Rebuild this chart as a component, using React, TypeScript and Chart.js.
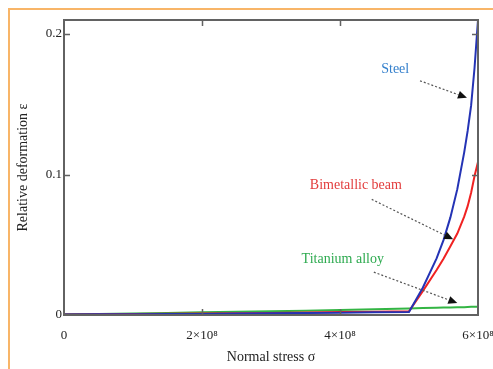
import React, { useEffect, useRef } from "react";
import { Chart, registerables } from "chart.js";

Chart.register(...registerables);

// Normal stress σ (Pa)
const stress = [0, 0.5e8, 1e8, 1.5e8, 2e8, 2.5e8, 3e8, 3.5e8, 4e8, 4.5e8, 5e8, 5.2e8, 5.4e8, 5.5e8, 5.6e8, 5.7e8, 5.8e8, 5.85e8, 5.9e8, 5.95e8, 6e8];
// Relative deformation ε
const steel = [0.0004, 0.0005, 0.0006, 0.0007, 0.0008, 0.001, 0.0012, 0.0014, 0.0016, 0.0019, 0.0022, 0.0194, 0.0403, 0.0533, 0.0695, 0.0896, 0.1158, 0.131, 0.149, 0.176, 0.21];
const bimetallic = [0.0004, 0.0005, 0.0007, 0.0009, 0.0011, 0.0013, 0.0015, 0.0018, 0.0021, 0.0024, 0.0026, 0.017, 0.032, 0.04, 0.049, 0.058, 0.07, 0.0775, 0.087, 0.099, 0.109];
const titanium = [0.0005, 0.0008, 0.0011, 0.0015, 0.0019, 0.0023, 0.0027, 0.0031, 0.0035, 0.0041, 0.0047, 0.005, 0.0052, 0.0053, 0.0054, 0.0055, 0.0056, 0.0057, 0.0058, 0.0058, 0.0059];

const seriesNames = ["Steel", "Bimetallic beam", "Titanium alloy"];
const lineColors = ["#2433b5", "#f02222", "#33b544"];
const textColors = ["#3580cc", "#e23c3c", "#2daa4f"];

// annotation positions in data units
const annoTextX = [4.8e8, 4.23e8, 4.04e8];
const annoTextY = [0.175, 0.092, 0.0397];
const arrowFromX = [5.16e8, 4.46e8, 4.49e8];
const arrowFromY = [0.1667, 0.0823, 0.0305];
const arrowToX = [5.84e8, 5.64e8, 5.7e8];
const arrowToY = [0.1546, 0.0539, 0.0085];

const xTicks = [0, 2e8, 4e8, 6e8];
const yTicks = [0, 0.1, 0.2];

const serif = "'Liberation Serif', 'DejaVu Serif', serif";

const framePlugin = {
  id: "frameAndNotes",
  afterDatasetsDraw(chart: any) {
    const { ctx, chartArea: a, scales } = chart;
    const xs = scales.x;
    const ys = scales.y;
    ctx.save();
    ctx.strokeStyle = "#626262";
    ctx.lineWidth = 2;
    ctx.strokeRect(a.left, a.top, a.right - a.left, a.bottom - a.top);
    ctx.lineWidth = 1.5;
    ctx.beginPath();
    xTicks.forEach((v) => {
      if (v === xs.min || v === xs.max) return;
      const px = Math.round(xs.getPixelForValue(v)) + 0.5;
      ctx.moveTo(px, a.top);
      ctx.lineTo(px, a.top + 6);
      ctx.moveTo(px, a.bottom);
      ctx.lineTo(px, a.bottom - 6);
    });
    yTicks.forEach((v) => {
      if (v === ys.min) return;
      const py = Math.round(ys.getPixelForValue(v)) + 0.5;
      ctx.moveTo(a.left, py);
      ctx.lineTo(a.left + 6, py);
      ctx.moveTo(a.right, py);
      ctx.lineTo(a.right - 6, py);
    });
    ctx.stroke();

    ctx.font = `14px ${serif}`;
    ctx.textAlign = "center";
    ctx.textBaseline = "middle";
    seriesNames.forEach((name, i) => {
      ctx.fillStyle = textColors[i];
      ctx.fillText(name, xs.getPixelForValue(annoTextX[i]), ys.getPixelForValue(annoTextY[i]));
      const x1 = xs.getPixelForValue(arrowFromX[i]);
      const y1 = ys.getPixelForValue(arrowFromY[i]);
      const x2 = xs.getPixelForValue(arrowToX[i]);
      const y2 = ys.getPixelForValue(arrowToY[i]);
      const ang = Math.atan2(y2 - y1, x2 - x1);
      const hl = 9;
      const bx = x2 - hl * Math.cos(ang);
      const by = y2 - hl * Math.sin(ang);
      ctx.strokeStyle = "#555";
      ctx.lineWidth = 1.2;
      ctx.setLineDash([2, 2]);
      ctx.beginPath();
      ctx.moveTo(x1, y1);
      ctx.lineTo(bx, by);
      ctx.stroke();
      ctx.setLineDash([]);
      ctx.fillStyle = "#111";
      ctx.beginPath();
      ctx.moveTo(x2, y2);
      ctx.lineTo(bx + 4 * Math.sin(ang), by - 4 * Math.cos(ang));
      ctx.lineTo(bx - 4 * Math.sin(ang), by + 4 * Math.cos(ang));
      ctx.closePath();
      ctx.fill();
    });
    ctx.restore();
  },
};

export default function App() {
  const ref = useRef<HTMLCanvasElement>(null);
  useEffect(() => {
    if (!ref.current) return;
    const series = [steel, bimetallic, titanium];
    const chart = new Chart(ref.current, {
      type: "scatter",
      data: {
        datasets: series.map((vals, i) => ({
          label: seriesNames[i],
          data: stress.map((x, j) => ({ x, y: vals[j] })),
          showLine: true,
          borderColor: lineColors[i],
          backgroundColor: lineColors[i],
          borderWidth: 2,
          pointRadius: 0,
          tension: 0,
        })),
      },
      options: {
        responsive: false,
        animation: false,
        layout: { padding: { left: 8, top: 20, right: 15, bottom: 0 } },
        plugins: { legend: { display: false }, tooltip: { enabled: false } },
        scales: {
          x: {
            type: "linear",
            min: 0,
            max: 6e8,
            afterFit: (s: any) => {
              s.height = 54;
              s.paddingLeft = 0;
              s.paddingRight = 0;
            },
            grid: { display: false, drawTicks: false },
            border: { display: false },
            ticks: {
              stepSize: 2e8,
              includeBounds: false,
              padding: 13,
              color: "#222",
              font: { family: serif, size: 13 },
              callback: (v: any) => (v === 0 ? "0" : `${v / 1e8}×10⁸`),
            },
            title: {
              display: true,
              text: "Normal stress σ",
              color: "#222",
              font: { family: serif, size: 14 },
              padding: 3,
            },
          },
          y: {
            type: "linear",
            min: 0,
            max: 0.21,
            afterFit: (s: any) => {
              s.width = 56;
              s.paddingTop = 0;
              s.paddingBottom = 0;
            },
            grid: { display: false, drawTicks: false },
            border: { display: false },
            ticks: {
              stepSize: 0.1,
              includeBounds: false,
              padding: 2,
              color: "#222",
              font: { family: serif, size: 13 },
              callback: (v: any) => String(Math.round(v * 10) / 10),
            },
            title: {
              display: true,
              text: "Relative deformation ε",
              color: "#222",
              font: { family: serif, size: 14 },
              padding: 7,
            },
          },
        },
      },
      plugins: [framePlugin],
    });
    return () => chart.destroy();
  }, []);
  return (
    <div style={{ position: "fixed", left: 0, top: 0, width: 493, height: 369, background: "#fff", overflow: "hidden" }}>
      <canvas ref={ref} width={493} height={369} style={{ display: "block" }} />
      <div
        style={{
          position: "absolute",
          left: 8,
          top: 8,
          right: -10,
          bottom: -10,
          borderTop: "2px solid #f8b568",
          borderLeft: "2px solid #f8b568",
          pointerEvents: "none",
        }}
      />
    </div>
  );
}
